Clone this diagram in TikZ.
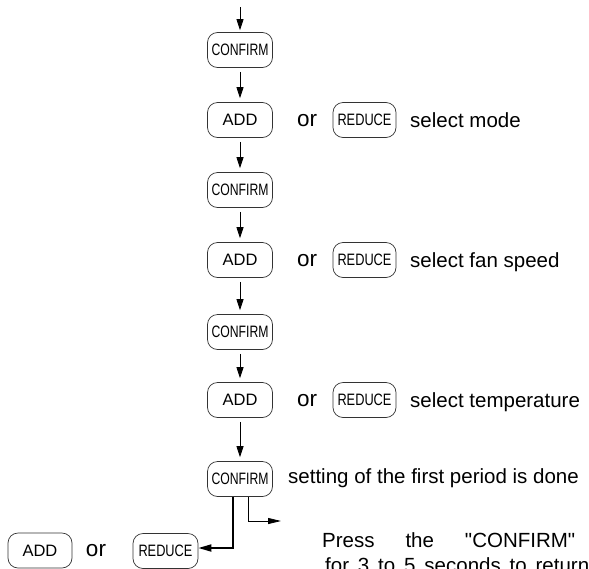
\documentclass[tikz,border=0pt]{standalone}
\usepackage{fontspec}
\setmainfont{Liberation Sans}[Ligatures=TeXOff]
\usepackage{graphicx}
\usetikzlibrary{arrows.meta}
\newcommand\cftxt[1]{\scalebox{0.74}[1]{#1}}
\newcommand\rdtxt[1]{\scalebox{0.775}[1]{#1}}
\begin{document}
\begin{tikzpicture}[x=1pt,y=-1pt,
  btn/.style={draw=black!80, line width=0.7pt, rounded corners=10pt, minimum width=65pt, minimum height=35pt, inner sep=0pt, font=\fontsize{16.5}{19}\selectfont},
  lbl/.style={font=\fontsize{20.5}{24}\selectfont, inner sep=0pt},
  ortxt/.style={font=\fontsize{22.5}{26}\selectfont, inner sep=0pt},
  arr/.style={line width=0.8pt, -{Triangle[length=11pt,width=7pt]}, shorten <=4pt, shorten >=4pt}
]
\useasboundingbox (0,0) rectangle (589,568);

% main column
\coordinate (top) at (240,7);
\node[btn] (c1) at (240,50) {\cftxt{CONFIRM}};
\node[btn] (a1) at (240,120) {ADD};
\node[btn] (c2) at (240,190) {\cftxt{CONFIRM}};
\node[btn] (a2) at (240,260) {ADD};
\node[btn] (c3) at (240,332) {\cftxt{CONFIRM}};
\node[btn] (a3) at (240,400) {ADD};
\node[btn] (c4) at (240,479) {\cftxt{CONFIRM}};

% alternatives
\node[ortxt] (o1) at (307,121) {or};
\node[btn, minimum width=63pt] (r1) at (364.5,120) {\rdtxt{REDUCE}};
\node[lbl, anchor=base west] (t1) at (410,127.5) {select mode};

\node[ortxt] (o2) at (307,261) {or};
\node[btn, minimum width=63pt] (r2) at (364.5,260) {\rdtxt{REDUCE}};
\node[lbl, anchor=base west] (t2) at (410,267.5) {select fan speed};

\node[ortxt] (o3) at (307,401) {or};
\node[btn, minimum width=63pt] (r3) at (364.5,400) {\rdtxt{REDUCE}};
\node[lbl, anchor=base west] (t3) at (410,407.5) {select temperature};

\node[lbl, anchor=base west] (t4) at (288,483) {setting of the first period is done};

% bottom row
\node[btn, minimum width=64pt] (a4) at (40,550.5) {ADD};
\node[ortxt] (o4) at (96,551) {or};
\node[btn] (r4) at (165.5,551) {\rdtxt{REDUCE}};

\node[lbl, anchor=base west] (p1) at (322,547) {\makebox[253pt][s]{Press the "CONFIRM"}};
\node[lbl, anchor=base west] (p2) at (325,572) {\makebox[264pt][s]{for 3 to 5 seconds to return}};

% arrows
\draw[arr, shorten <=0pt, shorten >=2pt] (top) -- (c1);
\draw[arr] (c1) -- (a1);
\draw[arr] (a1) -- (c2);
\draw[arr] (c2) -- (a2);
\draw[arr] (a2) -- (c3);
\draw[arr] (c3) -- (a3);
\draw[arr] (a3) -- (c4);

\coordinate (ret) at (281,521);
\draw[line width=1.8pt, -{Triangle[length=13pt,width=7pt]}] ([xshift=-7pt]c4.south) |- ([yshift=3pt]r4.east);
\draw[line width=0.8pt, -{Triangle[length=13pt,width=6pt]}] ([xshift=8pt]c4.south) |- (ret);
\end{tikzpicture}
\end{document}
